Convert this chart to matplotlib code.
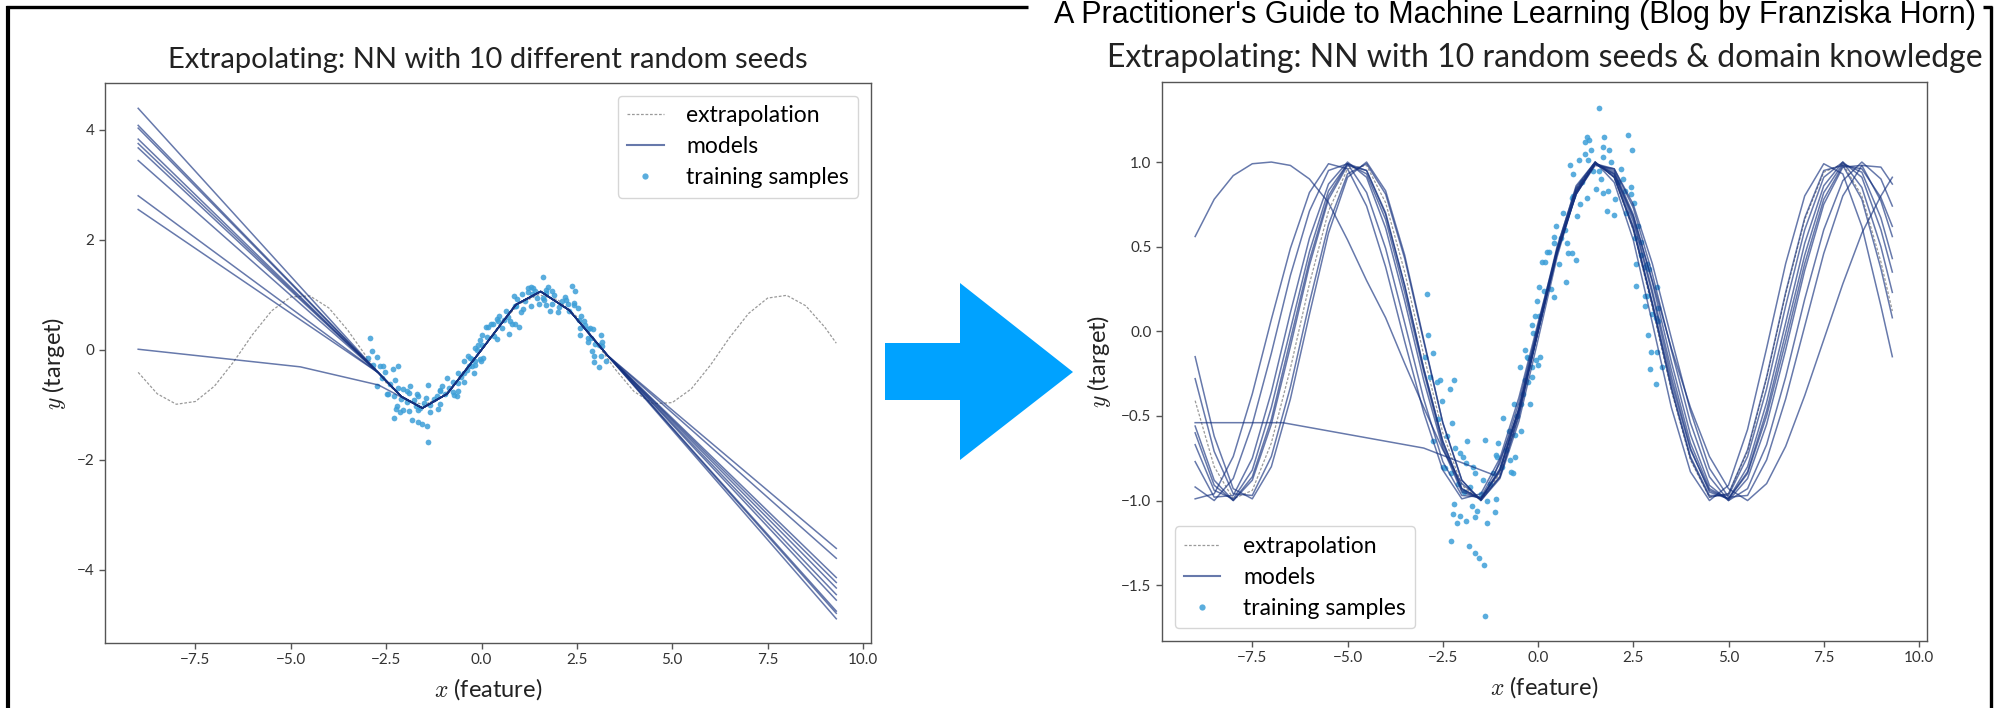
import matplotlib

matplotlib.use("Agg")
import matplotlib.pyplot as plt
from matplotlib.lines import Line2D
from matplotlib.patches import Polygon

W, H = 1995, 708

# training samples (same noisy sin(x) samples in both panels)
train_x = [
    -2.92, -2.88, -2.75, -2.97, -2.84, -2.66, -2.57, -2.53, -2.31, -2.20,
    -2.27, -2.75, -2.18, -2.05, -1.96, -2.49, -1.87, -1.70, -2.45, -2.29,
    -1.89, -1.66, -2.21, -2.24, -2.05, -2.13, -1.89, -1.73, -1.61, -1.66,
    -2.29, -1.81, -1.66, -1.55, -1.42, -1.39, -1.50, -2.40, -2.62, -2.10,
    -1.95, -1.78,
    -1.39, -1.34, -1.10, -1.13, -1.34, -1.17, -1.10, -1.04, -1.08, -0.91,
    -0.75, -0.61, -0.45, -0.74, -0.61, -0.65, -0.71, -0.45, -0.21, -0.62,
    -0.39, -0.34, -0.47, -0.30, -0.26, -0.16, -0.04, -0.17, -0.35, -0.01,
    -0.17, -0.12, -0.08, -0.03, -1.25, -0.95, -0.85, -1.45, -0.55, -0.25,
    0.05, 0.02, 0.02, 0.15, 0.34, 0.41, 0.11, 0.17, 0.24, 0.29,
    0.43, 0.41, 0.47, 0.70, 0.75, 0.79, 0.88, 0.99, 0.73, 0.88,
    0.84, 0.93, 1.07, 0.91, 1.03, 1.29, 1.23, 1.32, 1.39, 1.34,
    1.22, 1.29, 0.60, 0.65, 1.15, 1.45, 0.55, 1.10,
    1.60, 1.73, 1.70, 1.86, 1.70, 1.91, 1.52, 1.70, 1.84, 2.03,
    1.80, 2.00, 2.37, 2.46, 2.19, 2.22, 2.43, 2.28, 2.43, 2.53,
    2.62, 2.69, 2.57, 2.85, 2.80, 2.91, 2.57, 3.12, 2.80, 2.87,
    2.80, 3.16, 3.09, 3.15, 2.89, 2.96, 3.12, 3.26, 2.94, 3.09,
    1.60, 1.65, 2.10, 2.30, 2.55, 2.70, 2.98,
]
train_y = [
    0.22, -0.02, -0.13, -0.15, -0.27, -0.30, -0.29, -0.41, -0.34, -0.29,
    -0.54, -0.65, -0.69, -0.72, -0.74, -0.80, -0.65, -0.80, -0.81, -0.84,
    -0.78, -0.84, -1.02, -1.08, -1.09, -1.13, -1.12, -1.03, -1.06, -1.10,
    -1.24, -1.27, -1.31, -1.34, -1.38, -1.68, -0.96, -0.62, -0.52, -0.90,
    -0.95, -0.92,
    -0.64, -1.00, -0.99, -1.07, -1.13, -0.84, -0.73, -0.66, -0.74, -0.51,
    -0.59, -0.61, -0.59, -0.76, -0.74, -0.84, -0.83, -0.43, -0.43, -0.43,
    -0.37, -0.29, -0.21, -0.15, -0.16, -0.21, -0.17, -0.27, -0.11, -0.20,
    0.04, -0.01, 0.09, 0.18, -0.90, -0.80, -0.70, -0.88, -0.50, -0.30,
    -0.15, 0.09, 0.26, 0.24, 0.25, 0.20, 0.41, 0.41, 0.47, 0.47,
    0.52, 0.56, 0.62, 0.60, 0.52, 0.46, 0.46, 0.42, 0.29, 0.79,
    0.98, 0.93, 1.01, 0.80, 0.68, 0.79, 1.05, 1.01, 1.07, 1.13,
    1.12, 1.15, 0.55, 0.70, 0.88, 0.95, 0.40, 0.75,
    1.32, 1.15, 1.09, 1.07, 1.03, 1.00, 0.84, 0.82, 0.83, 0.78,
    0.71, 0.69, 1.16, 1.07, 0.96, 0.90, 0.85, 0.83, 0.81, 0.76,
    0.62, 0.53, 0.40, 0.40, 0.38, 0.37, 0.27, 0.26, 0.21, 0.21,
    0.15, 0.14, 0.08, 0.06, -0.02, -0.12, -0.12, -0.21, -0.22, -0.31,
    0.95, 0.90, 0.88, 0.70, 0.55, 0.45, 0.10,
]

grid_x = [-9.0, -8.5, -8.0, -7.5, -7.0, -6.5, -6.0, -5.5, -5.0, -4.5,
          -4.0, -3.5, -3.0, -2.5, -2.0, -1.5, -1.0, -0.5, 0.0, 0.5,
          1.0, 1.5, 2.0, 2.5, 3.0, 3.5, 4.0, 4.5, 5.0, 5.5,
          6.0, 6.5, 7.0, 7.5, 8.0, 8.5, 9.0, 9.3]

# dashed "extrapolation" (true function)
extrap_y = [-0.41, -0.80, -0.99, -0.94, -0.66, -0.22, 0.28, 0.71, 0.96, 0.98,
            0.76, 0.35, -0.14, -0.60, -0.91, -1.00, -0.84, -0.48, 0.00, 0.48,
            0.84, 1.00, 0.91, 0.60, 0.14, -0.35, -0.76, -0.98, -0.96, -0.71,
            -0.28, 0.22, 0.66, 0.94, 0.99, 0.80, 0.41, 0.12]

# left panel: plain NN (piecewise linear), 10 seeds
nn_mid_x = [-2.7, -2.1, -1.55, -0.9, 0.0, 0.9, 1.55, 2.3, 3.3]
nn_mid_y = [-0.42, -0.85, -1.06, -0.80, 0.0, 0.82, 1.06, 0.72, -0.10]
nn_start_y = [4.39, 4.08, 4.03, 3.83, 3.75, 3.67, 3.44, 2.80, 2.55]
nn_end_y = [-4.89, -4.55, -4.75, -4.33, -4.23, -4.45, -4.14, -3.79, -3.61]
nn_flat_x = [-9.0, -4.75, -2.7, -2.1, -1.55, -0.9, 0.0, 0.9, 1.55, 2.3, 3.3, 9.3]
nn_flat_y = [0.01, -0.31, -0.64, -0.86, -1.06, -0.80, 0.0, 0.82, 1.06, 0.72, -0.10, -4.79]

# right panel: NN with domain knowledge, 10 seeds (values read on grid_x)
dk_1 = [-0.15, -0.62, -0.93, -0.99, -0.80, -0.40, 0.10, 0.58, 0.91, 1.00,
        0.83, 0.45, -0.05, -0.54, -0.88, -1.00, -0.86, -0.49, 0.00, 0.49,
        0.86, 1.00, 0.88, 0.54, 0.05, -0.45, -0.83, -1.00, -0.91, -0.58,
        -0.10, 0.40, 0.80, 0.99, 0.93, 0.62, 0.15, -0.15]
dk_2 = [-0.28, -0.71, -0.96, -0.97, -0.74, -0.33, 0.17, 0.63, 0.93, 0.99,
        0.81, 0.43, -0.06, -0.54, -0.88, -1.00, -0.87, -0.53, -0.05, 0.44,
        0.82, 0.99, 0.92, 0.62, 0.16, -0.34, -0.75, -0.98, -0.96, -0.70,
        -0.27, 0.23, 0.67, 0.95, 0.98, 0.78, 0.37, 0.08]
dk_3 = [-0.56, -0.88, -1.00, -0.88, -0.55, -0.09, 0.39, 0.78, 0.98, 0.95,
        0.70, 0.27, -0.22, -0.65, -0.93, -0.99, -0.82, -0.45, 0.03, 0.50,
        0.85, 1.00, 0.91, 0.60, 0.16, -0.33, -0.74, -0.97, -0.97, -0.74,
        -0.34, 0.15, 0.60, 0.91, 1.00, 0.85, 0.50, 0.23]
dk_4 = [-0.60, -0.91, -1.00, -0.86, -0.52, -0.05, 0.42, 0.80, 0.99, 0.95,
        0.69, 0.27, -0.22, -0.65, -0.93, -0.99, -0.83, -0.47, 0.00, 0.47,
        0.83, 0.99, 0.93, 0.65, 0.22, -0.27, -0.69, -0.95, -0.99, -0.80,
        -0.42, 0.05, 0.52, 0.86, 1.00, 0.91, 0.60, 0.35]
dk_5 = [-0.67, -0.94, -0.99, -0.82, -0.45, 0.01, 0.47, 0.83, 0.99, 0.93,
        0.66, 0.23, -0.24, -0.67, -0.94, -0.99, -0.82, -0.46, 0.00, 0.46,
        0.82, 0.99, 0.94, 0.67, 0.24, -0.23, -0.66, -0.93, -0.99, -0.83,
        -0.47, -0.01, 0.45, 0.82, 0.99, 0.94, 0.67, 0.43]
dk_6 = [-0.77, -0.98, -0.97, -0.75, -0.36, 0.11, 0.55, 0.87, 1.00, 0.91,
        0.61, 0.18, -0.29, -0.69, -0.95, -0.99, -0.81, -0.46, 0.00, 0.46,
        0.81, 0.99, 0.95, 0.69, 0.29, -0.18, -0.61, -0.91, -1.00, -0.87,
        -0.55, -0.11, 0.36, 0.75, 0.97, 0.98, 0.77, 0.56]
dk_7 = [-0.92, -1.00, -0.87, -0.55, -0.13, 0.33, 0.71, 0.95, 0.99, 0.82,
        0.49, 0.05, -0.40, -0.77, -0.97, -0.98, -0.78, -0.42, 0.03, 0.47,
        0.81, 0.99, 0.96, 0.73, 0.34, -0.11, -0.54, -0.86, -1.00, -0.93,
        -0.67, -0.27, 0.19, 0.60, 0.89, 1.00, 0.90, 0.74]
dk_8 = [-0.99, -0.96, -0.74, -0.37, 0.07, 0.49, 0.82, 0.99, 0.96, 0.74,
        0.38, -0.06, -0.48, -0.82, -0.99, -0.96, -0.75, -0.39, 0.05, 0.48,
        0.81, 0.98, 0.96, 0.75, 0.40, -0.04, -0.47, -0.81, -0.98, -0.97,
        -0.76, -0.40, 0.03, 0.46, 0.80, 0.98, 0.97, 0.87]
dk_slow = [0.56, 0.78, 0.92, 0.99, 1.00, 0.98, 0.90, 0.76, 0.54, 0.30,
           0.08, -0.19, -0.45, -0.70, -0.90, -0.99, -0.86, -0.50, 0.00, 0.47,
           0.83, 0.99, 0.93, 0.68, 0.30, -0.10, -0.45, -0.74, -0.93, -1.00,
           -0.90, -0.68, -0.38, -0.05, 0.28, 0.58, 0.80, 0.91]
dk_flat_x = [-9.0, -6.7, -3.0, -1.15, -0.5, 0.0, 0.5, 1.0, 1.5, 2.0, 2.5, 3.0,
             3.5, 4.0, 4.5, 5.0, 5.5, 6.0, 6.5, 7.0, 7.5, 8.0, 8.5, 9.0, 9.3]
dk_flat_y = [-0.54, -0.54, -0.69, -0.85, -0.47, 0.01, 0.48, 0.84, 1.00, 0.91, 0.61, 0.17,
             -0.30, -0.70, -0.94, -0.99, -0.84, -0.50, -0.06, 0.40, 0.78, 0.98, 0.96, 0.79, 0.62]

NAVY = "#15317f"
DOT = "#3d9fd8"
GREY = "#9a9a9a"

plt.rcParams["font.family"] = ["Lato", "DejaVu Sans"]
plt.rcParams["mathtext.fontset"] = "cm"


def fx(x):
    return x / W


def fy(y):
    return 1 - y / H


def draw_panel(ax, models, title, title_size, loc, ylim, yticks):
    ax.plot(grid_x, extrap_y, color=GREY, lw=0.9, ls=(0, (2.2, 1.4)), zorder=1)
    ax.scatter(train_x, train_y, s=17, color=DOT, alpha=0.85, lw=0, zorder=2)
    for mx, my in models:
        ax.plot(mx, my, color=NAVY, alpha=0.65, lw=1.1, zorder=3)
    ax.set_xlim(-9.87, 10.21)
    ax.set_ylim(*ylim)
    ax.set_xticks([-7.5, -5.0, -2.5, 0.0, 2.5, 5.0, 7.5, 10.0])
    ax.set_yticks(yticks)
    ax.set_title(title, fontsize=title_size, color="#222222", pad=11)
    ax.set_xlabel("$x$ (feature)", fontsize=17, color="#222222", labelpad=6)
    ax.set_ylabel("$y$ (target)", fontsize=17, color="#222222", labelpad=6)
    ax.tick_params(labelsize=11, colors="#333333", length=4, width=1.0,
                   color="#555555")
    for s in ax.spines.values():
        s.set_color("#555555")
        s.set_linewidth(1.0)
    handles = [
        Line2D([], [], color=GREY, lw=0.9, ls=(0, (2.2, 1.4))),
        Line2D([], [], color=NAVY, alpha=0.65, lw=1.5),
        Line2D([], [], ls="", marker="o", ms=4.5, mew=0, color=DOT, alpha=0.85),
    ]
    ax.legend(handles, ["extrapolation", "models", "training samples"], loc=loc,
              fontsize=16.5, handlelength=1.6, handletextpad=1.0,
              labelspacing=0.45, borderpad=0.4, framealpha=0.8,
              edgecolor="#cccccc", borderaxespad=0.55)


fig = plt.figure(figsize=(W / 100, H / 100), dpi=100)
fig.patch.set_facecolor("white")

ax1 = fig.add_axes([105 / W, 1 - 643 / H, 766 / W, 560 / H])
ax2 = fig.add_axes([1162 / W, 1 - 641 / H, 765 / W, 559 / H])

left_models = [([-9.0] + nn_mid_x + [9.3], [a] + nn_mid_y + [b])
               for a, b in zip(nn_start_y, nn_end_y)]
left_models.append((nn_flat_x, nn_flat_y))
draw_panel(ax1, left_models, "Extrapolating: NN with 10 different random seeds",
           21, "upper right", (-5.33, 4.85), [-4, -2, 0, 2, 4])

right_models = [(grid_x, m) for m in (dk_1, dk_2, dk_3, dk_4, dk_5, dk_6,
                                      dk_7, dk_8, dk_slow)]
right_models.append((dk_flat_x, dk_flat_y))
draw_panel(ax2, right_models,
           "Extrapolating: NN with 10 random seeds & domain knowledge",
           23, "lower left", (-1.83, 1.473), [-1.5, -1.0, -0.5, 0.0, 0.5, 1.0])

# big blue arrow between the panels
arrow = [(885, 343), (960, 343), (960, 283), (1073, 372), (960, 460),
         (960, 400), (885, 400)]
fig.add_artist(Polygon([(fx(x), fy(y)) for x, y in arrow], closed=True,
                       transform=fig.transFigure, facecolor="#00a2ff",
                       edgecolor="none"))

# page frame + header
frame = dict(color="black", transform=fig.transFigure, solid_capstyle="butt")
fig.add_artist(Line2D([fx(8), fx(8)], [fy(6), 0], lw=3.0, **frame))
fig.add_artist(Line2D([fx(1991), fx(1991)], [fy(6), 0], lw=2.4, **frame))
fig.add_artist(Line2D([fx(6), fx(1028)], [fy(7), fy(7)], lw=2.4, **frame))
fig.add_artist(Line2D([fx(1983), fx(1992)], [fy(7), fy(7)], lw=2.4, **frame))
fig.text(fx(1976), fy(23), "A Practitioner's Guide to Machine Learning (Blog by Franziska Horn)",
         family="Liberation Sans", fontsize=22, color="black",
         ha="right", va="baseline")

fig.savefig("out.png", dpi=100)
